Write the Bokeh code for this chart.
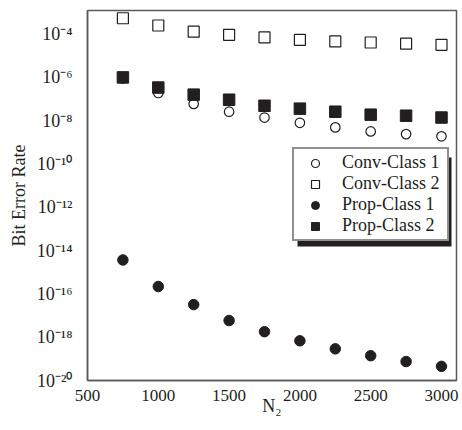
from bokeh.plotting import figure
from bokeh.models import FixedTicker, Legend, LegendItem, BoxAnnotation
from bokeh.embed import file_html
from bokeh.resources import INLINE

n2 = [750, 1000, 1250, 1500, 1750, 2000, 2250, 2500, 2750, 3000]
conv_class1 = [9e-7, 1.9e-7, 6e-8, 2.6e-8, 1.4e-8, 8e-9, 4.9e-9, 3.2e-9, 2.4e-9, 1.9e-9]
conv_class2 = [5.4e-4, 2.5e-4, 1.3e-4, 9.3e-5, 7e-5, 5.4e-5, 4.6e-5, 4.1e-5, 3.6e-5, 3.2e-5]
prop_class1 = [3.7e-15, 2.2e-16, 3.2e-17, 5.9e-18, 1.8e-18, 6.8e-19, 2.9e-19, 1.4e-19, 7.5e-20, 4.5e-20]
prop_class2 = [1e-6, 3.4e-7, 1.6e-7, 9.3e-8, 4.9e-8, 3.6e-8, 2.6e-8, 1.9e-8, 1.7e-8, 1.4e-8]
x_ticks = [500, 1000, 1500, 2000, 2500, 3000]
y_exponents = [-20, -18, -16, -14, -12, -10, -8, -6, -4]

SUP = str.maketrans("-0123456789", "⁻⁰¹²³⁴⁵⁶⁷⁸⁹")
FONT = "Liberation Serif"
INK = "#231f20"

p = figure(width=462, height=430, x_range=(500, 3106), y_range=(1e-20, 1.23e-3),
           y_axis_type="log", output_backend="svg", toolbar_location=None,
           min_border_left=87, min_border_top=10, min_border_right=6, min_border_bottom=50)
p.grid.visible = False
p.outline_line_color = "#5a5a5a"
p.outline_line_width = 1.5

p.xaxis.ticker = FixedTicker(ticks=x_ticks)
p.yaxis.ticker = FixedTicker(ticks=[10.0 ** e for e in y_exponents])
p.yaxis.major_label_overrides = {10.0 ** e: "10" + str(e).translate(SUP) for e in y_exponents}
p.xaxis.axis_label = "N₂"
p.yaxis.axis_label = "Bit Error Rate"
for ax in (p.xaxis, p.yaxis):
    ax.axis_line_color = "#5a5a5a"
    ax.axis_line_width = 1.5
    ax.major_tick_line_color = None
    ax.minor_tick_line_color = None
    ax.major_label_text_font = FONT
    ax.major_label_text_color = INK
    ax.axis_label_text_font = FONT
    ax.axis_label_text_font_size = "18px"
    ax.axis_label_text_font_style = "normal"
    ax.axis_label_text_color = INK
p.yaxis.major_label_text_font_size = "18px"
p.xaxis.major_label_text_font_size = "17px"
p.yaxis.major_label_standoff = 9
p.xaxis.major_label_standoff = 3
p.xaxis.axis_label_standoff = -8

r_c2 = p.scatter(n2, conv_class2, marker="square", size=11, fill_color="white", line_color=INK, line_width=1.2)
r_c1 = p.scatter(n2, conv_class1, marker="circle", size=9.5, fill_color="white", line_color=INK, line_width=1.2)
r_p1 = p.scatter(n2, prop_class1, marker="circle", size=10.5, fill_color=INK, line_color=INK)
r_p2 = p.scatter(n2, prop_class2, marker="square", size=11.5, fill_color=INK, line_color=INK)

# drop shadow behind the legend box (screen units: from frame left / frame bottom)
shadow = BoxAnnotation(left=210, right=364, top=223, bottom=134,
                       left_units="screen", right_units="screen", top_units="screen", bottom_units="screen",
                       fill_color=INK, fill_alpha=1.0, line_color=None)
p.add_layout(shadow)

legend = Legend(items=[LegendItem(label="Conv-Class 1", renderers=[r_c1]),
                       LegendItem(label="Conv-Class 2", renderers=[r_c2]),
                       LegendItem(label="Prop-Class 1", renderers=[r_p1]),
                       LegendItem(label="Prop-Class 2", renderers=[r_p2])],
                location=(205, 139), border_line_color=INK, border_line_width=2.5,
                label_text_font=FONT, label_text_font_size="18px", label_text_color=INK,
                padding=3, spacing=0, glyph_width=36, glyph_height=20, label_standoff=9,
                label_height=20, label_width=102, margin=0, background_fill_alpha=1.0)
p.add_layout(legend)

open("out.html", "w").write(file_html(p, INLINE))
